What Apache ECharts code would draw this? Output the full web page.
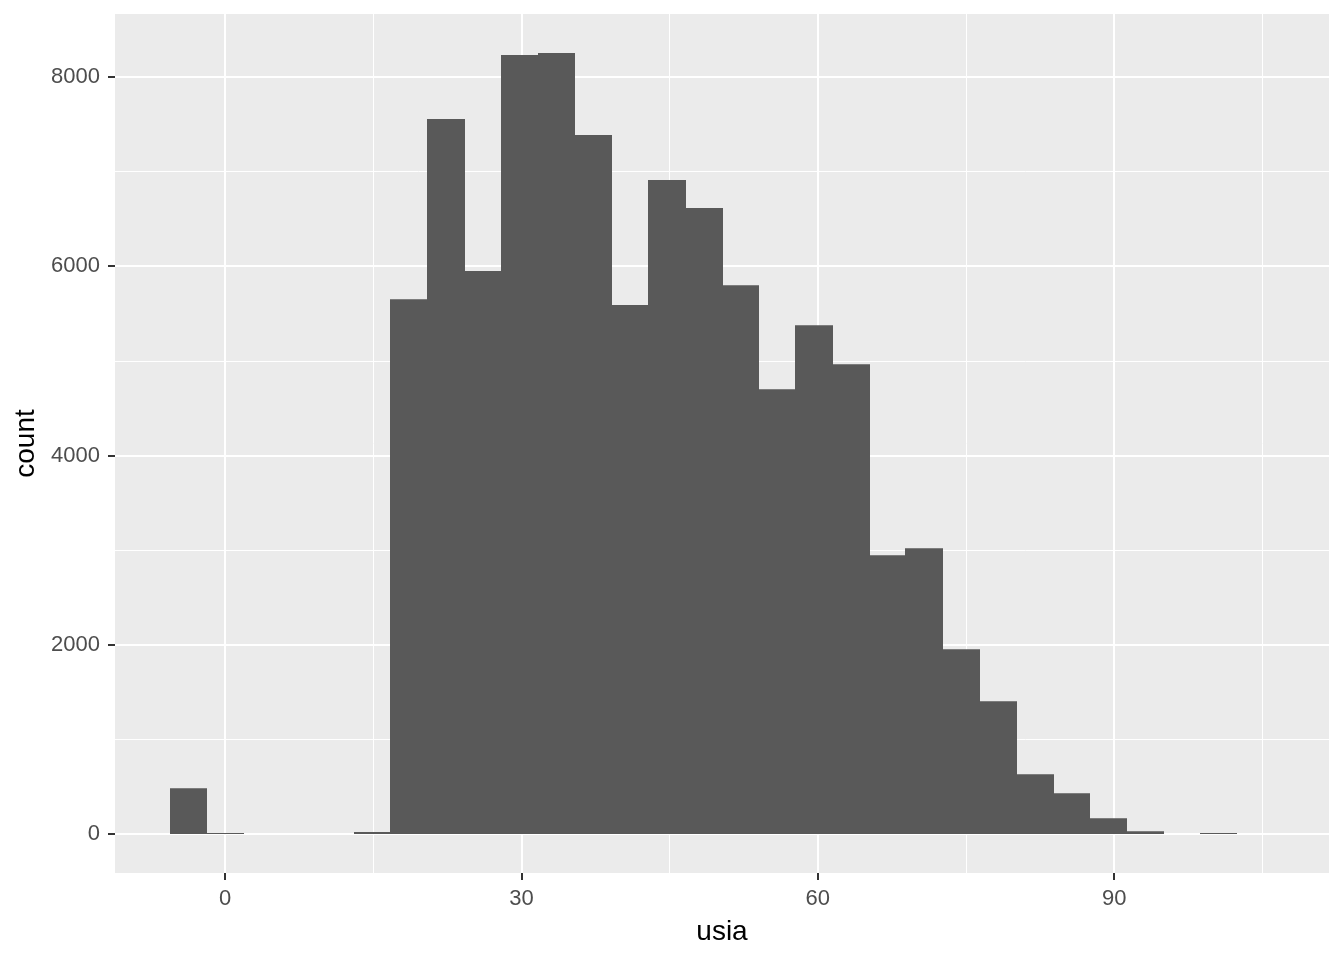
<!DOCTYPE html>
<html>
<head>
<meta charset="utf-8">
<title>usia histogram</title>
<script src="https://cdn.jsdelivr.net/npm/echarts@6/dist/echarts.min.js"></script>
<style>
  html, body { margin: 0; padding: 0; background: #fff; }
  #myCharts { width: 1344px; height: 960px; }
</style>
</head>
<body>
<div id="myCharts"></div>
<script>
// histogram bins (30 bins)
var binWidth = 3.724
var binCenters = [-3.70, 0.02, 3.75, 7.47, 11.20, 14.92, 18.64, 22.37, 26.09, 29.82,
  33.54, 37.26, 40.99, 44.71, 48.44, 52.16, 55.88, 59.61, 63.33, 67.06,
  70.78, 74.50, 78.23, 81.95, 85.68, 89.40, 93.12, 96.85, 100.57, 104.30]
var counts = [483, 10, 0, 0, 0, 20, 5652, 7556, 5949, 8232,
  8253, 7386, 5589, 6911, 6615, 5800, 4701, 5377, 4965, 2945,
  3019, 1952, 1402, 631, 430, 166, 28, 0, 10, 0]

// tick labels and minor grid positions
var xTicks = [0, 30, 60, 90]
var xMinor = [15, 45, 75, 105]
var yTicks = [0, 2000, 4000, 6000, 8000]
var yMinor = [1000, 3000, 5000, 7000]

// ggplot style 5% expansion of the data range
var xLo = binCenters[0] - binWidth / 2
var xHi = binCenters[binCenters.length - 1] + binWidth / 2
var xPad = (xHi - xLo) * 0.05
var yHi = Math.max.apply(null, counts)
var yPad = yHi * 0.05
var xMin = xLo - xPad, xMax = xHi + xPad
var yMin = -yPad, yMax = yHi + yPad

var font = 'Liberation Sans, Arial, sans-serif'

var data = binCenters.map(function (c, i) { return [c, counts[i]] })

var myCharts = echarts.init(document.getElementById('myCharts'), null, { renderer: 'canvas' })

var option = {
  animation: false,
  backgroundColor: '#ffffff',
  grid: {
    left: 115,
    right: 15,
    top: 14,
    bottom: 87,
    show: true,
    backgroundColor: '#EBEBEB',
    borderWidth: 0
  },
  xAxis: [
    {
      type: 'value',
      min: xMin,
      max: xMax,
      name: 'usia',
      nameLocation: 'middle',
      nameGap: 45,
      nameTextStyle: { fontFamily: font, fontSize: 28, color: '#000000' },
      axisLine: { show: false, onZero: false },
      axisTick: { show: true, length: 7, customValues: xTicks, lineStyle: { color: '#333333', width: 2 } },
      axisLabel: { customValues: xTicks, margin: 15, fontFamily: font, fontSize: 22, color: '#4D4D4D' },
      splitLine: { show: true, lineStyle: { color: '#ffffff', width: 2 } }
    },
    {
      type: 'value',
      min: xMin,
      max: xMax,
      position: 'bottom',
      axisLine: { show: false, onZero: false },
      axisTick: { show: true, length: 0, customValues: xMinor },
      axisLabel: { show: false },
      splitLine: { show: true, lineStyle: { color: '#ffffff', width: 1 } }
    }
  ],
  yAxis: [
    {
      type: 'value',
      min: yMin,
      max: yMax,
      name: 'count',
      nameLocation: 'middle',
      nameGap: 69,
      nameTextStyle: { fontFamily: font, fontSize: 28, color: '#000000' },
      axisLine: { show: false, onZero: false },
      axisTick: { show: true, length: 7, customValues: yTicks, lineStyle: { color: '#333333', width: 2 } },
      axisLabel: {
        customValues: yTicks,
        margin: 15,
        fontFamily: font,
        fontSize: 22,
        color: '#4D4D4D',
        formatter: function (v) { return String(v) }
      },
      splitLine: { show: true, lineStyle: { color: '#ffffff', width: 2 } }
    },
    {
      type: 'value',
      min: yMin,
      max: yMax,
      position: 'left',
      axisLine: { show: false, onZero: false },
      axisTick: { show: true, length: 0, customValues: yMinor },
      axisLabel: { show: false },
      splitLine: { show: true, lineStyle: { color: '#ffffff', width: 1 } }
    }
  ],
  series: [
    {
      type: 'custom',
      xAxisIndex: 0,
      yAxisIndex: 0,
      data: data,
      renderItem: function (params, api) {
        var c = api.value(0)
        var v = api.value(1)
        if (!v) return
        var p0 = api.coord([c - binWidth / 2, v])
        var p1 = api.coord([c + binWidth / 2, 0])
        // snap outward to whole pixels so neighbouring bars don't show seams
        var x0 = Math.floor(p0[0])
        var x1 = Math.ceil(p1[0])
        return {
          type: 'rect',
          shape: { x: x0, y: p0[1], width: x1 - x0, height: p1[1] - p0[1] },
          style: { fill: '#595959' }
        }
      }
    }
  ]
}

myCharts.setOption(option)
</script>
</body>
</html>
